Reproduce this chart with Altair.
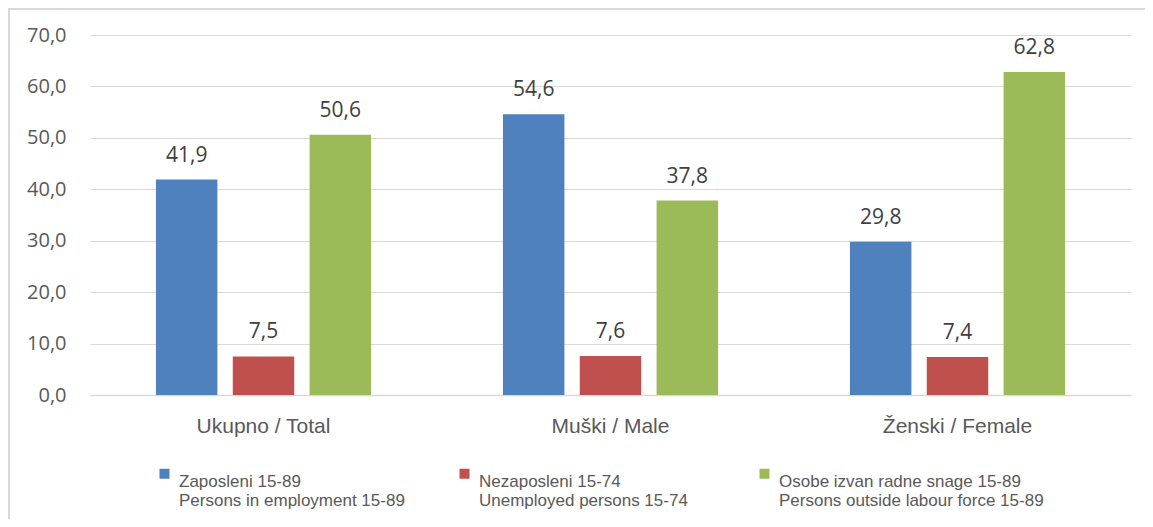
import altair as alt
import pandas as pd

categories = ["Ukupno / Total", "Muški / Male", "Ženski / Female"]
series = [
    "Zaposleni 15-89|Persons in employment 15-89",
    "Nezaposleni 15-74|Unemployed persons 15-74",
    "Osobe izvan radne snage 15-89|Persons outside labour force 15-89",
]
employed = [41.9, 54.6, 29.8]
unemployed = [7.5, 7.6, 7.4]
outside = [50.6, 37.8, 62.8]
colors = ["#4F81BD", "#C0504D", "#9BBB59"]
y_ticks = [0, 10, 20, 30, 40, 50, 60, 70]

rows = []
for i, c in enumerate(categories):
    for s, vals in zip(series, [employed, unemployed, outside]):
        rows.append({"cat": c, "series": s, "value": vals[i],
                     "label": f"{vals[i]:.1f}".replace(".", ",")})
df = pd.DataFrame(rows)

x_enc = alt.X("cat:N", sort=categories,
              scale=alt.Scale(paddingInner=0.38, paddingOuter=0.19),
              axis=alt.Axis(title=None, labelAngle=0, ticks=False,
                            domainColor="#d9d9d9", domainWidth=1.5,
                            labelFont="Liberation Sans", labelFontSize=21,
                            labelColor="#595959", labelPadding=20))
xoff = alt.XOffset("series:N", sort=series,
                   scale=alt.Scale(paddingInner=0.2, paddingOuter=0))
y_enc = alt.Y("value:Q", scale=alt.Scale(domain=[0, 70]),
              axis=alt.Axis(title=None, values=y_ticks,
                            labelExpr="replace(format(datum.value, '.1f'), '.', ',')",
                            ticks=False, domain=False, gridColor="#d9d9d9",
                            labelFont="Open Sans", labelFontSize=20,
                            labelColor="#595959", labelPadding=24))
color_enc = alt.Color("series:N", sort=series,
                      scale=alt.Scale(domain=series, range=colors),
                      legend=alt.Legend(title=None, orient="none", legendX=66, legendY=430,
                                        direction="horizontal", columns=3, gridAlign="all",
                                        columnPadding=12, symbolType="square", symbolSize=100,
                                        symbolStrokeWidth=0,
                                        labelExpr="split(datum.label, '|')",
                                        labelFont="Liberation Sans", labelFontSize=17,
                                        labelColor="#595959", labelLimit=400,
                                        labelBaseline="top",
                                        labelOffset=6))

base = alt.Chart(df)
bars = base.mark_bar().encode(x=x_enc, xOffset=xoff, y=y_enc, color=color_enc)
texts = base.mark_text(baseline="alphabetic", dy=-18, font="Open Sans", fontSize=21,
                       color="#404040").encode(x=x_enc, xOffset=xoff, y=y_enc, text="label:N")

one = alt.Chart(pd.DataFrame({"a": [0]}))
border_left = one.mark_rule(color="#d9d9d9", strokeWidth=2).encode(
    x=alt.value(-81), y=alt.value(-27), y2=alt.value(484))
border_top = one.mark_rule(color="#d9d9d9", strokeWidth=2).encode(
    x=alt.value(-82), x2=alt.value(1055), y=alt.value(-26))

chart = alt.layer(bars, texts, border_left, border_top).properties(
    width=1041, height=360,
    padding={"left": 82, "top": 27, "right": 14, "bottom": 124},
    autosize=alt.AutoSizeParams(type="none"),
).configure_view(stroke="transparent")

chart.save("out.html", embed_options={"renderer": "svg", "actions": False})
